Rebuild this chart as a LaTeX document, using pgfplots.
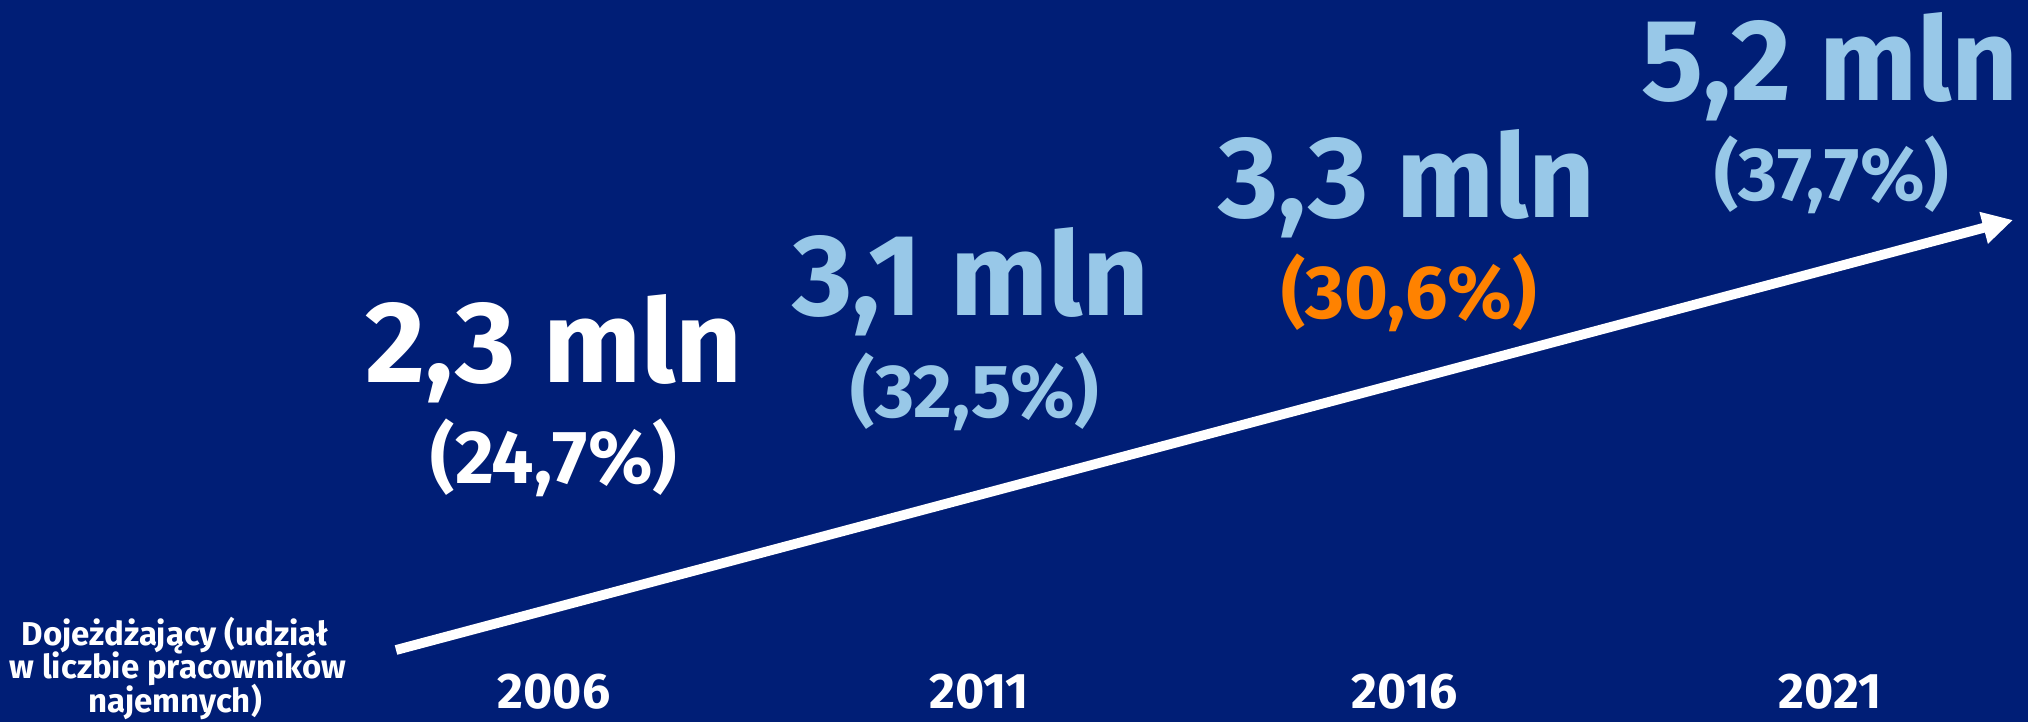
\documentclass[border=0pt]{standalone}
\usepackage{fontspec}
\setmainfont{Fira Sans}
\usepackage{pgfplots}
\pgfplotsset{compat=1.18}
\usetikzlibrary{arrows.meta}
\definecolor{bg}{RGB}{0,30,118}
\definecolor{lblue}{RGB}{152,200,232}
\definecolor{orng}{RGB}{255,130,0}
\pgfplotsset{
  lab/.style 2 args={draw=none, mark=none, point meta=explicit symbolic,
    nodes near coords,
    nodes near coords style={anchor=base, inner sep=0pt, text=#1, font=#2}},
}
\newcommand{\fbig}{\fontsize{29pt}{30pt}\selectfont\bfseries}
\newcommand{\fmid}{\fontsize{18.8pt}{19pt}\selectfont\bfseries}
\newcommand{\fyr}{\fontsize{12.5pt}{13pt}\selectfont\bfseries}
\newcommand{\fsm}{\fontsize{8.25pt}{8.4pt}\selectfont\bfseries}
\begin{document}
\begin{tikzpicture}
\begin{axis}[
  scale only axis, width=507pt, height=180.5pt,
  xmin=1999.488, xmax=2023.327, ymin=0, ymax=722,
  axis background/.style={fill=bg},
  axis line style={draw=none}, ticks=none, clip=false,
]
% arrow
\addplot[white, line width=2.45pt, -{Triangle[length=7.6pt,width=7.7pt]}]
  coordinates {(2004.143,72) (2023.151,502)};
% values (mln)
\addplot[lab={white}{\fbig}] coordinates {(2006,340) [2,3 mln]};
\addplot[lab={lblue}{\fbig}] coordinates {(2010.9,407) [3,1 mln] (2016.03,505) [3,3 mln] (2021,622) [5,2 mln]};
% shares (%)
\addplot[lab={white}{\fmid}] coordinates {(2006,239) [(24,7\%)]};
\addplot[lab={lblue}{\fmid}] coordinates {(2010.95,305) [(32,5\%)] (2021.02,522) [(37,7\%)]};
\addplot[lab={orng}{\fmid}] coordinates {(2016.05,404) [(30,6\%)]};
% years
\addplot[lab={white}{\fyr}] coordinates {(2006,14) [2006] (2011,14) [2011] (2016,14) [2016] (2021,14) [2021]};
% left label
\addplot[lab={white}{\fsm}] coordinates {(2001.545,77) [Dojeżdżający (udział] (2001.58,44) [w liczbie pracowników] (2001.545,10) [najemnych)]};
\end{axis}
\end{tikzpicture}
\end{document}
